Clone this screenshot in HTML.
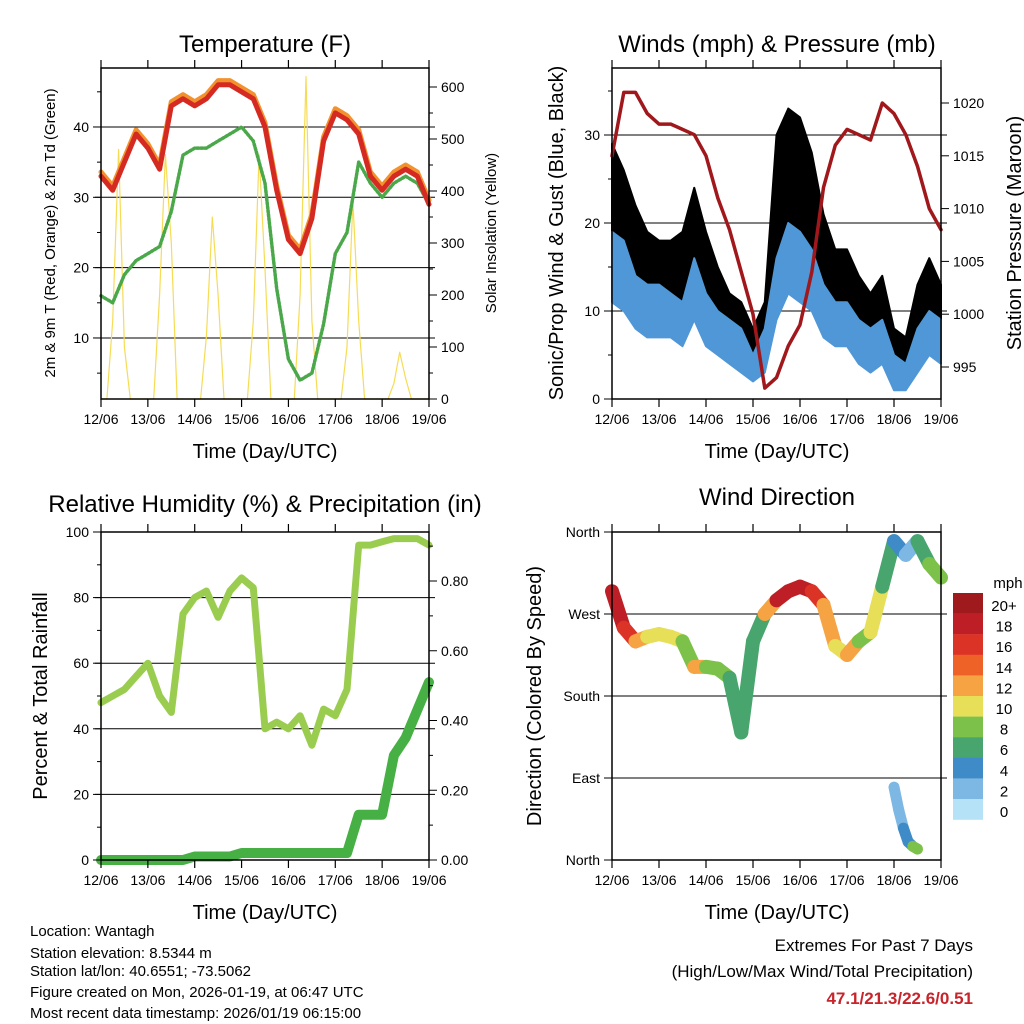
<!DOCTYPE html>
<html><head><meta charset="utf-8"><style>
body{margin:0;background:#fff}
svg{display:block;font-family:"Liberation Sans",sans-serif}
</style></head><body>
<svg id="c" width="1024" height="1024" viewBox="0 0 1024 1024">
<rect width="1024" height="1024" fill="#fff"/>
<g id="layer"></g>
<g font-size="24" text-anchor="middle" fill="#000">
<text x="265" y="52">Temperature (F)</text>
<text x="777" y="52">Winds (mph) &amp; Pressure (mb)</text>
<text x="265" y="512">Relative Humidity (%) &amp; Precipitation (in)</text>
<text x="777" y="505">Wind Direction</text>
</g>
<g font-size="20" text-anchor="middle">
<text x="265" y="458">Time (Day/UTC)</text>
<text x="777" y="458">Time (Day/UTC)</text>
<text x="265" y="919">Time (Day/UTC)</text>
<text x="777" y="919">Time (Day/UTC)</text>
<text transform="translate(563,233) rotate(-90)">Sonic/Prop Wind &amp; Gust (Blue, Black)</text>
<text transform="translate(1021,233) rotate(-90)">Station Pressure (Maroon)</text>
<text transform="translate(47,696) rotate(-90)">Percent &amp; Total Rainfall</text>
<text transform="translate(541,696) rotate(-90)">Direction (Colored By Speed)</text>
</g>
<g font-size="15" text-anchor="middle">
<text transform="translate(55,233) rotate(-90)">2m &amp; 9m T (Red, Orange) &amp; 2m Td (Green)</text>
<text transform="translate(496,233) rotate(-90)">Solar Insolation (Yellow)</text>
</g>
<g font-size="15" fill="#000">
<text x="30" y="936">Location: Wantagh</text>
<text x="30" y="958">Station elevation: 8.5344 m</text>
<text x="30" y="976">Station lat/lon: 40.6551; -73.5062</text>
<text x="30" y="997">Figure created on Mon, 2026-01-19, at 06:47 UTC</text>
<text x="30" y="1018">Most recent data timestamp: 2026/01/19 06:15:00</text>
</g>
<g font-size="17" text-anchor="end">
<text x="973" y="951">Extremes For Past 7 Days</text>
<text x="973" y="977">(High/Low/Max Wind/Total Precipitation)</text>
<text x="973" y="1004" fill="#c8242b" font-weight="bold">47.1/21.3/22.6/0.51</text>
</g>
</svg>
<script>
// 6-hourly samples, day 0..7
const days=[0,.25,.5,.75,1,1.25,1.5,1.75,2,2.25,2.5,2.75,3,3.25,3.5,3.75,4,4.25,4.5,4.75,5,5.25,5.5,5.75,6,6.25,6.5,6.75,7];
const dayLabels=["12/06","13/06","14/06","15/06","16/06","17/06","18/06","19/06"];
const tempT=[33,31,35,39,37,34,43,44,43,44,46,46,45,44,40,31,24,22,27,38,42,41,39,33,31,33,34,33,29];
const tempTd=[16,15,19,21,22,23,28,36,37,37,38,39,40,38,32,17,7,4,5,12,22,25,35,32,30,32,33,32,29];
// 3-hourly solar
const solarTimes=[0,.125,.25,.375,.5,.625,.75,.875,1,1.125,1.25,1.375,1.5,1.625,1.75,1.875,2,2.125,2.25,2.375,2.5,2.625,2.75,2.875,3,3.125,3.25,3.375,3.5,3.625,3.75,3.875,4,4.125,4.25,4.375,4.5,4.625,4.75,4.875,5,5.125,5.25,5.375,5.5,5.625,5.75,5.875,6,6.125,6.25,6.375,6.5,6.625,6.75,6.875,7];
const solar=[0,0,150,480,100,0,0,0,0,0,200,470,300,0,0,0,0,0,120,350,200,0,0,0,0,0,150,470,250,0,0,0,0,0,200,620,150,0,0,0,0,0,100,380,150,0,0,0,0,0,30,90,40,0,0,0,0];
const windLo=[11,10,8,7,7,7,6,9,6,5,4,3,2,3,9,12,11,10,7,6,6,4,3,4,1,1,3,5,4];
const windHi=[19,18,14,13,13,12,11,16,12,10,9,8,5,8,16,20,19,17,13,11,11,9,8,9,5,4,8,10,9];
const gustLo=[17,15,12,11,10,10,10,14,10,8,6,5,3,5,16,19,18,16,11,9,9,7,6,7,3,2,6,8,7];
const gustHi=[29,26,22,19,18,18,19,24,19,15,12,11,8,11,30,33,32,28,21,17,17,14,12,14,8,7,13,16,13];
const pressure=[1015,1021,1021,1019,1018,1018,1017.5,1017,1015,1011,1008,1004,1000,993,994,997,999,1004,1012,1016,1017.5,1017,1016.5,1020,1019,1017,1014,1010,1008];
const rh=[48,50,52,56,60,50,45,75,80,82,74,82,86,83,40,42,40,44,35,46,44,52,96,96,97,98,98,98,96];
const precip=[0,0,0,0,0,0,0,0,0.01,0.01,0.01,0.01,0.02,0.02,0.02,0.02,0.02,0.02,0.02,0.02,0.02,0.02,0.13,0.13,0.13,0.3,0.35,0.43,0.51];
const windDir=[295,255,240,245,248,245,240,212,212,210,200,140,240,270,285,295,300,295,280,235,225,240,250,300,350,335,350,325,310];
const dirSpeed=[18,16,12,10,10,9,8,11,8,7,6,5,6,12,17,18,17,16,12,10,11,8,9,6,3,2,6,8,7];
const dir2Days=[6,6.1,6.2,6.3,6.4,6.5];
const dir2=[80,55,35,20,15,12];
const dir2Speed=[2,2,3,4,7,8];
const cbLabels=["20+","18","16","14","12","10","8","6","4","2","0"];
const cbColors=["#9e1a1d","#be1e25","#dc3327","#ee6127","#f6a343","#e7df58","#7cc24a","#47a56d","#3f8bc7","#7db7e3","#b6e2f8"];

const NS="http://www.w3.org/2000/svg";
const L=document.getElementById('layer');
function mk(tag,at){const e=document.createElementNS(NS,tag);for(const k in at)e.setAttribute(k,at[k]);L.appendChild(e);return e;}
function mkT(x,y,s,anchor,size){const e=mk('text',{x:x,y:y,'text-anchor':anchor,'font-size':size});e.textContent=s;return e;}

const P={
 temp:{x0:101,x1:429,y0:68,y1:399},
 wind:{x0:612,x1:941,y0:68,y1:399},
 rh:{x0:101,x1:429,y0:532,y1:860},
 dir:{x0:612,x1:941,y0:532,y1:860}
};
function xs(p,d){return p.x0+d*(p.x1-p.x0)/7;}
const yT=v=>408.3-7.033*v, yS=v=>399-0.52*v;
const yW=v=>399-8.8*v, yP=v=>367-(v-995)*10.56;
const yR=v=>860-3.28*v, yPr=v=>860-v*348.75;
const yD=v=>860-v*82/90;

function frame(p,name){
 const r=mk('rect',{x:p.x0,y:p.y0,width:p.x1-p.x0,height:p.y1-p.y0,fill:'none',stroke:'#000','stroke-width':1.5});
 
 
 for(let i=0;i<8;i++){
  const x=xs(p,i);
  mk('line',{x1:x,x2:x,y1:p.y1,y2:p.y1+8,stroke:'#000','stroke-width':1.2});
  mk('line',{x1:x,x2:x,y1:p.y0,y2:p.y0-8,stroke:'#000','stroke-width':1.2});
  const t=mkT(x,p.y1+25,dayLabels[i],'middle',14);
  
  
 }
}
function grid(p,y){mk('line',{x1:p.x0-6,x2:p.x1+6,y1:y,y2:y,stroke:'#000','stroke-width':1});}
function yTicks(p,vals,fn,side,labels,minor){
 vals.forEach((v,i)=>{const y=fn(v);
  if(side==='l'){mk('line',{x1:p.x0-8,x2:p.x0,y1:y,y2:y,stroke:'#000'});
   if(labels){const t=mkT(p.x0-12,y+5,labels[i],'end',14);}}
  else{mk('line',{x1:p.x1,x2:p.x1+8,y1:y,y2:y,stroke:'#000'});
   if(labels){const t=mkT(p.x1+12,y+5,labels[i],'start',14);}}
 });
 (minor||[]).forEach(v=>{const y=fn(v);
  if(side==='l')mk('line',{x1:p.x0-4,x2:p.x0,y1:y,y2:y,stroke:'#000'});
  else mk('line',{x1:p.x1,x2:p.x1+4,y1:y,y2:y,stroke:'#000'});});
}
function poly(pts,st){const e=mk('polyline',Object.assign({points:pts.map(q=>q[0].toFixed(1)+','+q[1].toFixed(1)).join(' '),fill:'none','stroke-linejoin':'round','stroke-linecap':'round'},st));return e;}
function band(p,lo,hi,fn,fill){
 const pts=days.map((d,i)=>[xs(p,d),fn(hi[i])]).concat(days.slice().reverse().map((d,j)=>{const i=days.length-1-j;return [xs(p,d),fn(lo[i])];}));
 return mk('polygon',{points:pts.map(q=>q.join(',')).join(' '),fill:fill,stroke:fill,'stroke-width':2,'stroke-linejoin':'round'});
}

// Temperature panel
let p=P.temp;
[10,20,30,40].forEach(v=>grid(p,yT(v)));
let e=poly(solarTimes.map((d,i)=>[xs(p,d),yS(solar[i])]),{stroke:'#f6dc55','stroke-width':1.2});


e=poly(days.map((d,i)=>[xs(p,d),yT(tempTd[i])]),{stroke:'#4aa84a','stroke-width':3.5,'stroke-dasharray':'2 2'});


e=poly(days.map((d,i)=>[xs(p,d),yT(tempT[i]+0.6)]),{stroke:'#f2922f','stroke-width':5});


e=poly(days.map((d,i)=>[xs(p,d),yT(tempT[i])]),{stroke:'#d42a22','stroke-width':5});


frame(p,'temp');
yTicks(p,[10,20,30,40],yT,'l',['10','20','30','40'],[5,15,25,35,45]);
yTicks(p,[0,100,200,300,400,500,600],yS,'r',['0','100','200','300','400','500','600'],[50,150,250,350,450,550]);

// Winds panel
p=P.wind;
[10,20,30].forEach(v=>grid(p,yW(v)));
e=band(p,gustLo,gustHi,yW,'#000');


e=band(p,windLo,windHi,yW,'#4f97d6');


e=poly(days.map((d,i)=>[xs(p,d),yP(pressure[i])]),{stroke:'#a0181c','stroke-width':3.5});


frame(p,'winds');
yTicks(p,[0,10,20,30],yW,'l',['0','10','20','30'],[5,15,25,35]);
yTicks(p,[995,1000,1005,1010,1015,1020],yP,'r',['995','1000','1005','1010','1015','1020']);

// RH panel
p=P.rh;
[20,40,60,80].forEach(v=>grid(p,yR(v)));
e=poly(days.map((d,i)=>[xs(p,d),yR(rh[i])]),{stroke:'#9acd4f','stroke-width':7});


e=poly(days.map((d,i)=>[xs(p,d),yPr(precip[i])]),{stroke:'#47b044','stroke-width':10});


frame(p,'humidity');
yTicks(p,[0,20,40,60,80,100],yR,'l',['0','20','40','60','80','100'],[10,30,50,70,90]);
yTicks(p,[0,.2,.4,.6,.8],yPr,'r',['0.00','0.20','0.40','0.60','0.80'],[.1,.3,.5,.7,.9]);

// Direction panel
p=P.dir;
[90,180,270].forEach(v=>grid(p,yD(v)));
function spdColor(s){let k=Math.round(s/2);if(k>10)k=10;if(k<0)k=0;return cbColors[10-k];}
for(let i=0;i<days.length-1;i++){
 e=mk('line',{x1:xs(p,days[i]),y1:yD(windDir[i]),x2:xs(p,days[i+1]),y2:yD(windDir[i+1]),stroke:spdColor(dirSpeed[i]),'stroke-width':14,'stroke-linecap':'round'});
 
 
}
for(let i=0;i<dir2Days.length-1;i++){
 e=mk('line',{x1:xs(p,dir2Days[i]),y1:yD(dir2[i]),x2:xs(p,dir2Days[i+1]),y2:yD(dir2[i+1]),stroke:spdColor(dir2Speed[i]),'stroke-width':11,'stroke-linecap':'round'});
 
 
}
frame(p,'direction');
yTicks(p,[0,90,180,270,360],yD,'l',['North','East','South','West','North']);
// colorbar
cbColors.forEach((c,i)=>{
 e=mk('rect',{x:953,y:593+i*20.6,width:30,height:20.8,fill:c});
 
 
 e=mkT(1004,611+i*20.6,cbLabels[i],'middle',15);
 
 
});
e=mkT(1008,588,'mph','middle',15);


</script>
</body></html>
